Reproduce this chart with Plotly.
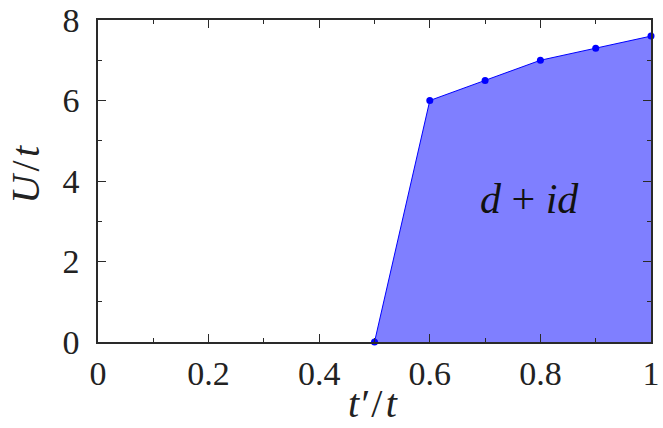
import plotly.graph_objects as go

x_vals = [0.5, 0.6, 0.7, 0.8, 0.9, 1.0]
u_vals = [0.0, 6.0, 6.5, 7.0, 7.3, 7.6]
x_ticks = [0, 0.2, 0.4, 0.6, 0.8, 1]
x_labels = ["0", "0.2", "0.4", "0.6", "0.8", "1"]
y_ticks = [0, 2, 4, 6, 8]
y_labels = ["0", "2", "4", "6", "8"]
region_label = "<i>d</i> + <i>id</i>"
x_title = "<i>t\u2032</i>\u200a/\u200a<i>t</i>"
y_title = "<i>U</i>\u200a/\u200a<i>t</i>"

FONT = "Liberation Serif"
AX = "#2a2a2a"

fig = go.Figure()
fig.add_trace(go.Scatter(
    x=x_vals, y=u_vals, mode="lines+markers",
    fill="tozeroy", fillcolor="rgba(0,0,255,0.5)",
    line=dict(color="#0000ff", width=1),
    marker=dict(color="#0000ff", size=7),
    cliponaxis=False, showlegend=False,
))

fig.add_annotation(x=0.78, y=3.55, text=region_label, showarrow=False,
                   font=dict(family=FONT, size=42, color="#111111"))
fig.add_annotation(xref="paper", yref="paper", x=0.497, y=-0.19, yanchor="middle",
                   text=x_title, showarrow=False,
                   font=dict(family=FONT, size=40, color="#222222"))
fig.add_annotation(xref="paper", yref="paper", x=-0.176, y=0.52, textangle=-90,
                   text=y_title, showarrow=False,
                   font=dict(family=FONT, size=40, color="#222222"))

axis_common = dict(
    showgrid=False, zeroline=False, showline=True, linecolor=AX, linewidth=1.5,
    mirror="allticks", ticks="inside", ticklen=8, tickwidth=1.2, tickcolor=AX,
    tickfont=dict(family=FONT, size=34, color="#222222"), automargin=False,
)

fig.update_xaxes(
    range=[0, 1], tickvals=x_ticks, ticktext=x_labels,
    minor=dict(ticks="inside", dtick=0.1, ticklen=4, tickwidth=1.2, tickcolor=AX),
    **axis_common,
)
fig.update_yaxes(
    range=[0, 8], tickvals=y_ticks, ticktext=y_labels,
    minor=dict(ticks="inside", dtick=1, ticklen=4, tickwidth=1.2, tickcolor=AX),
    ticklabelstandoff=10,
    **axis_common,
)

fig.update_layout(
    width=663, height=428,
    margin=dict(l=98, r=12, t=20, b=86),
    plot_bgcolor="white", paper_bgcolor="white",
)

fig.write_html("out.html", post_script="document.body.style.margin='0';",
               config={"displayModeBar": False})
